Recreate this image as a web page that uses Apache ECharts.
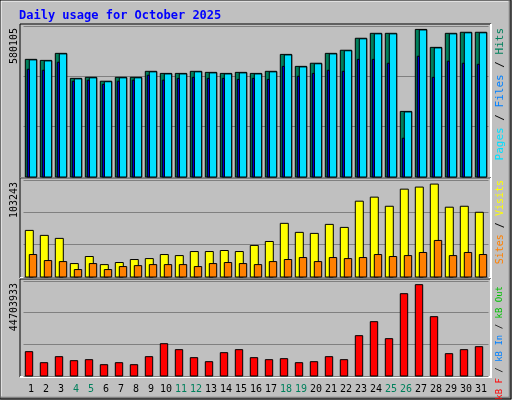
<!DOCTYPE html>
<html><head><meta charset="utf-8">
<script src="https://cdn.jsdelivr.net/npm/echarts@6/dist/echarts.min.js"></script>
<style>html,body{margin:0;padding:0;background:#c0c0c0}#c{width:512px;height:400px}</style>
</head><body><div id="c"></div>
<script>
const days = ['1','2','3','4','5','6','7','8','9','10','11','12','13','14','15','16','17','18','19','20','21','22','23','24','25','26','27','28','29','30','31']
const weekend = ['4','5','11','12','18','19','25','26']
const hits = [452000,448000,475000,379000,383000,368000,383000,383000,406000,398000,398000,406000,402000,398000,402000,398000,406000,471000,425000,437000,475000,487000,533000,552000,552000,252000,567000,498000,552000,556000,556000]
const files = [450000,446000,473000,377000,381000,366000,381000,381000,404000,396000,396000,404000,400000,396000,400000,396000,404000,469000,423000,435000,473000,485000,531000,550000,550000,250000,565000,496000,550000,554000,554000]
const pages = [414000,410000,441000,368000,372000,356000,368000,372000,391000,372000,379000,383000,379000,379000,375000,379000,375000,425000,387000,398000,410000,406000,452000,452000,437000,149000,464000,383000,445000,437000,433000]
const visits = [49600,44300,41100,14300,21800,13200,15400,18600,19600,23900,22800,27100,27100,28200,27100,33600,37800,57100,47500,46400,56000,52800,80700,85000,75300,93500,95700,98900,74300,75300,68900]
const sites = [23900,17500,16400,7900,14300,7900,11100,12100,13200,13200,13200,11100,14300,15400,14300,13200,16400,18600,20700,16400,20700,19600,20700,23900,21800,22800,26100,38900,22800,26100,23900]
const kbytes = [11450000,6270000,9100000,7220000,7690000,5330000,6270000,5330000,9100000,15200000,12400000,8630000,6740000,10980000,12400000,8630000,7690000,8160000,6270000,6740000,9100000,7690000,18980000,25570000,17570000,38740000,42980000,27920000,10510000,12400000,13800000]
const maxTop = 580105, maxMid = 103243, maxBot = 44703933

const font = 'DejaVu Sans Mono'
const panels = [{top: 26, h: 151}, {top: 180, h: 97}, {top: 281, h: 95}]

// one bar drawn from the category centre, shifted by [x0, x1] pixels
function bar(gi, data, x0, x1, color, z) {
  return {
    type: 'custom', xAxisIndex: gi, yAxisIndex: gi, z: z,
    data: data.map((v, i) => [i, v]),
    renderItem: (params, api) => {
      const p = api.coord([api.value(0), api.value(1)])
      const b = api.coord([api.value(0), 0])
      return {type: 'rect', shape: {x: p[0] + x0, y: p[1], width: x1 - x0, height: b[1] - p[1]},
        style: {fill: color, stroke: '#000', lineWidth: 1}}
    }
  }
}

const grids = panels.map(p => ({left: 23.5, right: 23.5, top: p.top, height: p.h}))
const xAxes = panels.map((p, i) => ({
  type: 'category', gridIndex: i, data: days, boundaryGap: true,
  axisLine: {show: false}, axisTick: {show: false},
  axisLabel: i === 2 ? {
    interval: 0, fontFamily: font, fontSize: 10, margin: 8,
    color: (v) => weekend.includes(v) ? '#00805c' : '#000'
  } : {show: false}
}))
const yAxes = [maxTop, maxMid, maxBot].map((m, i) => ({
  type: 'value', gridIndex: i, min: 0, max: m, interval: m / 3,
  axisLabel: {show: false}, axisLine: {show: false}, axisTick: {show: false},
  splitLine: {lineStyle: {color: '#808080', width: 1}}
}))

const series = [
  bar(0, hits, -5.7, 5.7, '#00805c', 1),
  bar(0, files, -1.7, 5.7, '#00e0ff', 2),
  bar(0, pages, -3.7, -1.7, '#0000ff', 3),
  bar(1, visits, -5.7, 2.3, '#ffff00', 1),
  bar(1, sites, -1.7, 5.7, '#ff8000', 2),
  bar(2, kbytes, -5.7, 1.7, '#ff0000', 1)
]

function frame(p) {
  return [
    {type: 'polyline', shape: {points: [[20, p.top + p.h + 1], [20, p.top - 2], [491, p.top - 2]]}, style: {stroke: '#000', lineWidth: 1, fill: null}, z: -1},
    {type: 'polyline', shape: {points: [[491, p.top - 2], [491, p.top + p.h + 1], [20, p.top + p.h + 1]]}, style: {stroke: '#fff', lineWidth: 2, fill: null}, z: -1}
  ]
}
function vtext(x, y, rich, text, size) {
  return {type: 'text', x: x, y: y, rotation: Math.PI / 2,
    style: {text: text, rich: rich, fontFamily: font, fontSize: size, align: 'right', verticalAlign: 'middle', fill: '#000'}}
}
function mkRich(size) {
  const c = {p: '#00e0ff', f: '#0080ff', h: '#00805c', s: '#ff8000', v: '#ffff00', o: '#00c000', i: '#0080ff', r: '#ff0000', k: '#000'}
  const r = {}
  Object.keys(c).forEach(k => { r[k] = {fill: c[k], fontFamily: font, fontSize: size} })
  return r
}

const graphic = [
  {type: 'rect', shape: {x: 1, y: 1, width: 508, height: 396}, style: {fill: null, stroke: '#fff', lineWidth: 1}, z: -2},
  {type: 'polyline', shape: {points: [[1, 398], [510, 398], [510, 1]]}, style: {stroke: '#808080', lineWidth: 3, fill: null}, z: -2},
  {type: 'rect', shape: {x: 0, y: 0, width: 511, height: 399}, style: {fill: null, stroke: '#000', lineWidth: 1}, z: -2},
  {type: 'text', x: 19, y: 10, style: {text: 'Daily usage for October 2025', fontFamily: font, fontWeight: 'bold', fontSize: 12, fill: '#0000ff'}},
  ...panels.flatMap(frame),
  vtext(14, 28, null, String(maxTop), 10),
  vtext(14, 182, null, String(maxMid), 10),
  vtext(14, 283, null, String(maxBot), 10),
  vtext(500, 28, mkRich(11), '{p|Pages}{k| / }{f|Files}{k| / }{h|Hits}', 11),
  vtext(500, 180, mkRich(10), '{s|Sites}{k| / }{v|Visits}', 10),
  vtext(500, 286, mkRich(9), '{r|kB F}{k| / }{i|kB In}{k| / }{o|kB Out}', 9)
]

const chart = echarts.init(document.getElementById('c'))
chart.setOption({
  animation: false, backgroundColor: '#c0c0c0',
  grid: grids, xAxis: xAxes, yAxis: yAxes, series: series, graphic: graphic
})
</script></body></html>
